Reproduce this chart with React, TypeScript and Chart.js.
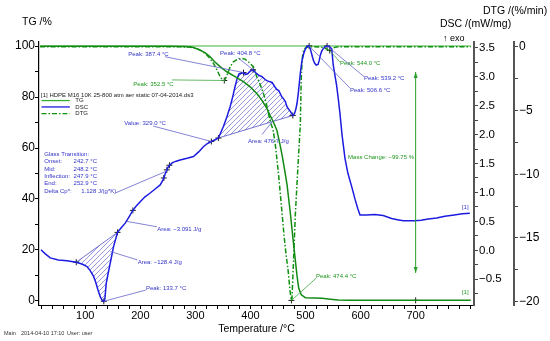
import React, { useEffect, useRef } from 'react';
import { Chart, registerables } from 'chart.js';

Chart.register(...registerables);

// ---------- data ----------
const tgT = [18, 60, 100, 150, 200, 250, 280, 295, 308.6, 318, 326.8, 335, 344.9, 357.1, 372.1, 387.2, 399.4, 411.5, 420.6, 429.6, 435.6, 441, 448, 453, 457.4, 462, 466.5, 472.5, 477, 481.5, 484.5, 487.7, 492.4, 499.7, 515, 530, 545, 559.5, 580, 600, 650, 700, 750, 800];
const tgV = [99.9, 99.9, 99.9, 99.9, 99.9, 99.9, 99.85, 99.5, 98.4, 97.3, 95.8, 93.8, 91.9, 89.9, 88.0, 86.0, 84.0, 81.4, 78.8, 75.6, 72.8, 70.5, 67.0, 62.0, 57.3, 51.5, 45.5, 34.4, 25.0, 16.0, 10.0, 5.0, 2.4, 1.3, 1.15, 1.06, 0.7, 0.4, 0.32, 0.3, 0.27, 0.25, 0.25, 0.25];

const dscT = [19.6, 27.4, 36.5, 51, 66.8, 83.7, 95, 103.1, 109, 115.1, 119, 123, 127.2, 130.5, 133.7, 135.6, 138.1, 141.5, 145.4, 151.3, 158.6, 165.3, 172.6, 179, 186.5, 193, 199.8, 208, 217.9, 227, 236.1, 241.5, 245.1, 248.2, 251.1, 257.8, 265, 272.3, 285, 296.5, 306, 314.6, 321, 329, 336, 341.8, 346, 350.9, 357, 363.1, 368, 372.1, 376, 379.5, 384, 387.4, 391, 395, 399, 404.8, 409, 414.4, 418, 421.1, 426.6, 430, 435.6, 439.3, 444, 447.8, 451.4, 456.9, 460, 463.4, 466, 469, 472.5, 477, 480, 482.5, 484.6, 487, 490.6, 493.5, 496.8, 499.5, 502.8, 506.6, 509, 511.8, 514, 516.7, 519.5, 522.7, 525, 526.9, 529.5, 532, 535, 539.2, 543, 547.6, 550.4, 553.5, 556.6, 559.5, 562.6, 566.5, 571.7, 577, 583.9, 590, 595, 599, 605, 611, 626, 641, 656.4, 667, 677.5, 688, 698.7, 710, 722.8, 738, 753.1, 770, 785, 798.5];
const dscV = [0.01, -0.06, -0.13, -0.165, -0.18, -0.205, -0.24, -0.28, -0.35, -0.45, -0.55, -0.68, -0.8, -0.86, -0.88, -0.84, -0.57, -0.4, -0.22, 0.06, 0.31, 0.39, 0.47, 0.57, 0.69, 0.77, 0.84, 0.92, 0.99, 1.06, 1.13, 1.22, 1.32, 1.39, 1.45, 1.51, 1.54, 1.56, 1.59, 1.62, 1.7, 1.79, 1.84, 1.88, 1.91, 1.94, 2.03, 2.14, 2.3, 2.48, 2.66, 2.83, 2.97, 3.05, 3.06, 3.07, 3.04, 3.05, 3.09, 3.12, 3.07, 3.03, 3.01, 3.0, 2.95, 2.93, 2.91, 2.9, 2.83, 2.78, 2.76, 2.65, 2.62, 2.57, 2.49, 2.44, 2.4, 2.33, 2.36, 2.44, 2.54, 2.72, 3.06, 3.27, 3.4, 3.47, 3.52, 3.53, 3.47, 3.37, 3.29, 3.23, 3.2, 3.21, 3.28, 3.37, 3.44, 3.48, 3.51, 3.53, 3.52, 3.48, 3.2, 3.02, 2.84, 2.62, 2.36, 1.98, 1.59, 1.33, 1.1, 0.88, 0.72, 0.61, 0.61, 0.61, 0.62, 0.6, 0.55, 0.53, 0.51, 0.51, 0.51, 0.52, 0.54, 0.56, 0.59, 0.61, 0.63, 0.64];

const dtgT = [18, 100, 200, 270, 290, 302.6, 312, 320.8, 327, 332.8, 339, 344.9, 349, 352.5, 357, 363.1, 369, 376, 384.3, 390, 396.3, 405.3, 411.5, 418, 423.5, 428, 433, 437, 441, 445, 451, 457.4, 461, 464.7, 468.8, 472, 474.4, 475.5, 478.5, 481.5, 486, 490.6, 491.8, 492.6, 494.5, 496.8, 500.9, 510, 525, 535, 541, 544, 548, 553, 560, 600, 700, 800];
const dtgV = [0, 0, 0, 0, -0.03, -0.13, -0.35, -0.65, -0.95, -1.3, -1.8, -2.35, -2.58, -2.65, -2.3, -1.57, -1.18, -1.0, -0.91, -0.97, -1.18, -1.57, -2.35, -3.0, -3.65, -4.3, -5.3, -6.0, -6.5, -7.6, -10.0, -13.05, -14.8, -16.3, -17.7, -19.2, -19.9, -19.7, -16.5, -13.2, -9.6, -6.1, -3.5, -2.0, -0.8, -0.26, -0.05, 0, -0.02, -0.1, -0.25, -0.3, -0.2, -0.05, 0, 0, 0, 0];

// evaluation markers
const markDscT = [83.7, 133.7, 158.6, 186.5, 242.7, 248.2, 252.9, 329, 341.8, 387.4, 404.8, 477, 506.6, 539.2];
const markDscV = [-0.205, -0.88, 0.31, 0.69, 1.25, 1.39, 1.47, 1.88, 1.94, 3.07, 3.12, 2.33, 3.53, 3.53];
const markDtgT = [352.5, 474.4, 544];
const markDtgV = [-2.65, -19.9, -0.3];
const markTgT = [700];
const markTgV = [0.25];

// peak area limits (DSC)
const areaStartT = [83.7, 341.8];
const areaEndT = [158.6, 477];

// ticks
const xTickValues = [20, 40, 60, 80, 100, 120, 140, 160, 180, 200, 220, 240, 260, 280, 300, 320, 340, 360, 380, 400, 420, 440, 460, 480, 500, 520, 540, 560, 580, 600, 620, 640, 660, 680, 700, 720, 740, 760, 780, 800];
const xTickLabels = [100, 200, 300, 400, 500, 600, 700];
const tgTickValues = [0, 10, 20, 30, 40, 50, 60, 70, 80, 90, 100];
const tgTickLabels = [0, 20, 40, 60, 80, 100];
const dscTickValues = [-0.75, -0.5, -0.25, 0, 0.25, 0.5, 0.75, 1, 1.25, 1.5, 1.75, 2, 2.25, 2.5, 2.75, 3, 3.25, 3.5];
const dscTickLabels = [-0.5, 0, 0.5, 1, 1.5, 2, 2.5, 3, 3.5];
const dtgTickValues = [-20, -17.5, -15, -12.5, -10, -7.5, -5, -2.5, 0];
const dtgTickLabels = [-20, -15, -10, -5, 0];

// ---------- styles / annotations ----------
const FONT = '"Liberation Sans", Arial, Helvetica, sans-serif';
const BLUE = '#1c1ce0';
const BLUE_TXT = '#3434c8';
const BLUE_LEAD = '#6464cc';
const TG_COLOR = '#138a13';
const DTG_COLOR = '#109010';
const GREEN_TXT = '#1e961e';
const GREEN_LEAD = '#40a840';

type Ax = 'y' | 'y1' | 'y2';
interface Note { text: string; color: string; lead: string; tx: number; ty: number; fx: number; fy: number; px: number; py: number; ax: Ax; }

const notes: Note[] = [
  { text: 'Peak: 387.4 °C', color: BLUE_TXT, lead: BLUE_LEAD, tx: 178, ty: 96.9, fx: 245, fy: 95.8, px: 387.4, py: 3.07, ax: 'y1' },
  { text: 'Peak: 404.8 °C', color: BLUE_TXT, lead: BLUE_LEAD, tx: 344.9, ty: 97.3, fx: 377.6, fy: 95.3, px: 404.8, py: 3.12, ax: 'y1' },
  { text: 'Peak: 352.5 °C', color: GREEN_TXT, lead: GREEN_LEAD, tx: 187.1, ty: 85.1, fx: 257.3, fy: 86.7, px: 352.5, py: -2.65, ax: 'y2' },
  { text: 'Value: 329.0 °C', color: BLUE_TXT, lead: BLUE_LEAD, tx: 170.8, ty: 69.8, fx: 223.4, fy: 68.6, px: 329, py: 1.88, ax: 'y1' },
  { text: 'Area: 476.7 J/g', color: BLUE_TXT, lead: BLUE_LEAD, tx: 395.7, ty: 62.7, fx: 421, fy: 65.3, px: 440, py: 2.225, ax: 'y1' },
  { text: 'Area: \u22123.091 J/g', color: BLUE_TXT, lead: BLUE_LEAD, tx: 230.6, ty: 28.2, fx: 230, fy: 29.1, px: 175.6, py: 0.5, ax: 'y1' },
  { text: 'Area: \u2212128.4 J/g', color: BLUE_TXT, lead: BLUE_LEAD, tx: 195.2, ty: 15.3, fx: 194.9, fy: 16.1, px: 145.4, py: -0.02, ax: 'y1' },
  { text: 'Peak: 133.7 °C', color: BLUE_TXT, lead: BLUE_LEAD, tx: 210.1, ty: 5.1, fx: 210.1, fy: 4.3, px: 133.7, py: -0.88, ax: 'y1' },
  { text: 'Peak: 544.0 °C', color: GREEN_TXT, lead: GREEN_LEAD, tx: 562.6, ty: 93.3, fx: 562.6, fy: 93.7, px: 544, py: -0.3, ax: 'y2' },
  { text: 'Peak: 539.2 °C', color: BLUE_TXT, lead: BLUE_LEAD, tx: 606.2, ty: 87.5, fx: 606.2, fy: 88, px: 539.2, py: 3.53, ax: 'y1' },
  { text: 'Peak: 506.6 °C', color: BLUE_TXT, lead: BLUE_LEAD, tx: 580.8, ty: 82.7, fx: 580.8, fy: 83.5, px: 506.6, py: 3.53, ax: 'y1' },
  { text: 'Peak: 474.4 °C', color: GREEN_TXT, lead: GREEN_LEAD, tx: 519.1, ty: 9.5, fx: 519.1, fy: 8.9, px: 474.4, py: -19.9, ax: 'y2' },
];

const glassRows: [string, string, number][] = [
  ['Glass Transition:', '', 0],
  ['Onset:', '242.7 °C', 78.8],
  ['Mid:', '248.2 °C', 78.8],
  ['Inflection:', '247.9 °C', 78.8],
  ['End:', '252.9 °C', 78.8],
  ['Delta Cp*:', '1.128 J/(g*K)', 92.7],
];

function pts(t: number[], v: number[]) {
  return t.map((x, i) => ({ x, y: v[i] }));
}

function makeHatch(ctx: CanvasRenderingContext2D) {
  const c = document.createElement('canvas');
  c.width = 5; c.height = 5;
  const g = c.getContext('2d')!;
  g.strokeStyle = 'rgba(50,50,190,0.85)';
  g.lineWidth = 0.6;
  g.beginPath();
  g.moveTo(0, 5); g.lineTo(5, 0);
  g.moveTo(-1, 1); g.lineTo(1, -1);
  g.moveTo(4, 6); g.lineTo(6, 4);
  g.stroke();
  return ctx.createPattern(c, 'repeat')!;
}

const thermoPlugin = {
  id: 'thermo',
  beforeDatasetsDraw(chart: any) {
    const { ctx, scales } = chart;
    const sx = scales.x, sy = scales.y, sd = scales.y1;
    ctx.save();
    // top reference line
    ctx.strokeStyle = '#3cb43c';
    ctx.lineWidth = 1;
    ctx.beginPath();
    ctx.moveTo(sx.getPixelForValue(tgT[0]), sy.getPixelForValue(100));
    ctx.lineTo(sx.getPixelForValue(800), sy.getPixelForValue(100));
    ctx.stroke();
    // hatched peak areas
    const pat = makeHatch(ctx);
    areaStartT.forEach((t0, k) => {
      const t1 = areaEndT[k];
      const i0 = dscT.indexOf(t0), i1 = dscT.indexOf(t1);
      ctx.beginPath();
      for (let i = i0; i <= i1; i++) {
        const x = sx.getPixelForValue(dscT[i]), y = sd.getPixelForValue(dscV[i]);
        if (i === i0) ctx.moveTo(x, y); else ctx.lineTo(x, y);
      }
      ctx.closePath();
      ctx.fillStyle = pat;
      ctx.fill();
      ctx.strokeStyle = BLUE_LEAD;
      ctx.lineWidth = 0.9;
      ctx.beginPath();
      ctx.moveTo(sx.getPixelForValue(t0), sd.getPixelForValue(dscV[i0]));
      ctx.lineTo(sx.getPixelForValue(t1), sd.getPixelForValue(dscV[i1]));
      ctx.stroke();
    });
    ctx.restore();
  },
  afterDatasetsDraw(chart: any) {
    const { ctx, scales } = chart;
    const sx = scales.x;
    const P = (t: number, v: number, ax: Ax = 'y') => [sx.getPixelForValue(t), scales[ax].getPixelForValue(v)];
    ctx.save();
    ctx.textBaseline = 'middle';
    ctx.textAlign = 'left';
    ctx.font = `6px ${FONT}`;
    // leaders + texts
    notes.forEach((n) => {
      const [x0, y0] = P(n.fx, n.fy);
      const [x1, y1] = P(n.px, n.py, n.ax);
      ctx.strokeStyle = n.lead;
      ctx.lineWidth = 0.8;
      ctx.beginPath(); ctx.moveTo(x0, y0); ctx.lineTo(x1, y1); ctx.stroke();
      const [tx, ty] = P(n.tx, n.ty);
      ctx.fillStyle = n.color;
      ctx.fillText(n.text, tx, ty);
    });
    // glass transition block
    ctx.fillStyle = BLUE_TXT;
    glassRows.forEach((r, i) => {
      const [x, y] = P(25.6, 57.6 - i * 2.9);
      ctx.fillText(r[0], x, y);
      if (r[1]) {
        const [vx] = P(r[2], 0);
        ctx.fillText(r[1], vx, y);
      }
    });
    {
      const [x0, y0] = P(154.4, 42.35);
      const [x1, y1] = P(248.2, 1.37, 'y1');
      ctx.strokeStyle = BLUE_LEAD;
      ctx.beginPath(); ctx.moveTo(x0, y0); ctx.lineTo(x1, y1); ctx.stroke();
    }
    // mass change arrow
    {
      const [ax, ay0] = P(700, 89.8);
      const [, ay1] = P(700, 11);
      ctx.strokeStyle = '#2aa02a';
      ctx.fillStyle = '#2aa02a';
      ctx.lineWidth = 1;
      ctx.beginPath(); ctx.moveTo(ax, ay0); ctx.lineTo(ax, ay1); ctx.stroke();
      ctx.beginPath(); ctx.moveTo(ax, ay0); ctx.lineTo(ax - 2, ay0 + 6); ctx.lineTo(ax + 2, ay0 + 6); ctx.closePath(); ctx.fill();
      ctx.beginPath(); ctx.moveTo(ax, ay1); ctx.lineTo(ax - 2, ay1 - 6); ctx.lineTo(ax + 2, ay1 - 6); ctx.closePath(); ctx.fill();
      ctx.fillStyle = GREEN_TXT;
      ctx.textAlign = 'right';
      const [mx, my] = P(697, 56.5);
      ctx.fillText('Mass Change: \u221299.75 %', mx, my);
      ctx.textAlign = 'left';
    }
    // [1] tags
    {
      const [bx, by] = P(784, 36.9);
      ctx.fillStyle = BLUE_TXT; ctx.fillText('[1]', bx, by);
      const [gx, gy] = P(784, 3.5);
      ctx.fillStyle = GREEN_TXT; ctx.fillText('[1]', gx, gy);
    }
    // legend
    {
      ctx.fillStyle = '#222';
      const [lx, ly] = P(19.8, 80.8);
      ctx.fillText('[1] HDPE M16 10K 25-800 atm aer static 07-04-2014.ds3', lx, ly);
      const rows: [string, string, number[], number][] = [
        ['TG', '#33b033', [], 78.6],
        ['DSC', BLUE, [], 76.1],
        ['DTG', DTG_COLOR, [5, 2, 1.5, 2], 73.5],
      ];
      rows.forEach(([name, col, dash, v]) => {
        const [x0, y] = P(20.5, v);
        const [x1] = P(72, v);
        const [xt] = P(82, v);
        ctx.strokeStyle = col; ctx.lineWidth = 1.3; ctx.setLineDash(dash);
        ctx.beginPath(); ctx.moveTo(x0, y); ctx.lineTo(x1, y); ctx.stroke();
        ctx.setLineDash([]);
        ctx.fillStyle = '#222';
        ctx.fillText(name, xt, y);
      });
    }
    // titles
    ctx.fillStyle = '#000';
    ctx.font = `10.5px ${FONT}`;
    ctx.fillText('TG /%', 22, 22);
    ctx.fillText('DTG /(%/min)', 483, 11);
    ctx.fillText('DSC /(mW/mg)', 440, 24);
    ctx.font = `9px ${FONT}`;
    ctx.fillText('\u2191 exo', 443, 39);
    ctx.font = `5.5px ${FONT}`;
    ctx.fillStyle = '#333';
    ctx.fillText('Main', 4, 333);
    ctx.fillText('2014-04-10 17:10', 21, 333);
    ctx.fillText('User: user', 67, 333);
    ctx.restore();
  },
};

const tickFont = (size: number) => ({ family: FONT, size });
const minus = (s: string) => s.replace('-', '\u2212');

export default function App() {
  const ref = useRef<HTMLCanvasElement | null>(null);
  useEffect(() => {
    if (!ref.current) return;
    const markerStyle = { showLine: false, pointStyle: 'cross', pointRadius: 3, borderColor: '#222', pointBorderColor: '#222', pointBorderWidth: 1, borderWidth: 1 };
    const chart = new Chart(ref.current, {
      type: 'line',
      data: {
        datasets: [
          { label: 'TG', data: pts(tgT, tgV), yAxisID: 'y', borderColor: TG_COLOR, borderWidth: 1.5, pointRadius: 0, fill: false },
          { label: 'DSC', data: pts(dscT, dscV), yAxisID: 'y1', borderColor: BLUE, borderWidth: 1.5, pointRadius: 0, fill: false },
          { label: 'DTG', data: pts(dtgT, dtgV), yAxisID: 'y2', borderColor: DTG_COLOR, borderWidth: 1.5, borderDash: [5, 2, 1.5, 2], pointRadius: 0, fill: false },
          { label: 'mDSC', data: pts(markDscT, markDscV), yAxisID: 'y1', ...markerStyle },
          { label: 'mDTG', data: pts(markDtgT, markDtgV), yAxisID: 'y2', ...markerStyle },
          { label: 'mTG', data: pts(markTgT, markTgV), yAxisID: 'y', ...markerStyle },
        ] as any,
      },
      options: {
        animation: false,
        responsive: true,
        maintainAspectRatio: false,
        events: [],
        layout: { padding: { top: 42, left: 0, right: 0, bottom: 0 } },
        plugins: { legend: { display: false }, tooltip: { enabled: false } },
        scales: {
          x: {
            type: 'linear', position: 'bottom', min: 16, max: 806,
            afterBuildTicks: (s: any) => { s.ticks = xTickValues.map((value) => ({ value })); },
            afterFit: (s: any) => { s.height = 36; },
            ticks: { autoSkip: false, maxRotation: 0, padding: 0, color: '#000', font: tickFont(11),
              callback: (v: any) => (xTickLabels.includes(v) ? String(v) : '') },
            grid: { drawOnChartArea: false, drawTicks: true, tickLength: 4, color: '#000' },
            border: { display: true, color: '#000', width: 1 },
            title: { display: true, text: 'Temperature /°C', color: '#000', font: { family: FONT, size: 10.5 }, padding: { top: 0, bottom: 6 } },
          },
          y: {
            type: 'linear', position: 'left', min: -1.57, max: 101.57,
            afterBuildTicks: (s: any) => { s.ticks = tgTickValues.map((value) => ({ value })); },
            afterFit: (s: any) => { s.width = 39; },
            ticks: { autoSkip: false, padding: 0, color: '#000', font: tickFont(12),
              callback: (v: any) => (tgTickLabels.includes(v) ? String(v) : '') },
            grid: { drawOnChartArea: false, drawTicks: true, tickLength: 4, color: '#000' },
            border: { display: true, color: '#000', width: 1.2 },
          },
          y1: {
            type: 'linear', position: 'right', min: -0.944, max: 3.598,
            afterBuildTicks: (s: any) => { s.ticks = dscTickValues.map((value) => ({ value })); },
            afterFit: (s: any) => { s.width = 40; },
            ticks: { autoSkip: false, padding: 1, color: '#000', font: tickFont(11.5),
              callback: (v: any) => (dscTickLabels.includes(v) ? minus(Number(v).toFixed(1)) : '') },
            grid: { drawOnChartArea: false, drawTicks: true, tickLength: 4, color: '#444' },
            border: { display: true, color: '#555', width: 2 },
          },
          y2: {
            type: 'linear', position: 'right', min: -20.26, max: 0.37,
            afterBuildTicks: (s: any) => { s.ticks = dtgTickValues.map((value) => ({ value })); },
            afterFit: (s: any) => { s.width = 36; },
            ticks: { autoSkip: false, padding: 1, color: '#000', font: tickFont(12),
              callback: (v: any) => (dtgTickLabels.includes(v) ? minus(String(v)) : '') },
            grid: { drawOnChartArea: false, drawTicks: true, tickLength: 4, color: '#444' },
            border: { display: true, color: '#555', width: 2 },
          },
        },
      } as any,
      plugins: [thermoPlugin as any],
    });
    return () => chart.destroy();
  }, []);
  return (
    <div style={{ position: 'absolute', left: 0, top: 0, width: 550, height: 341, background: '#fff' }}>
      <canvas ref={ref} width={550} height={341} />
    </div>
  );
}
